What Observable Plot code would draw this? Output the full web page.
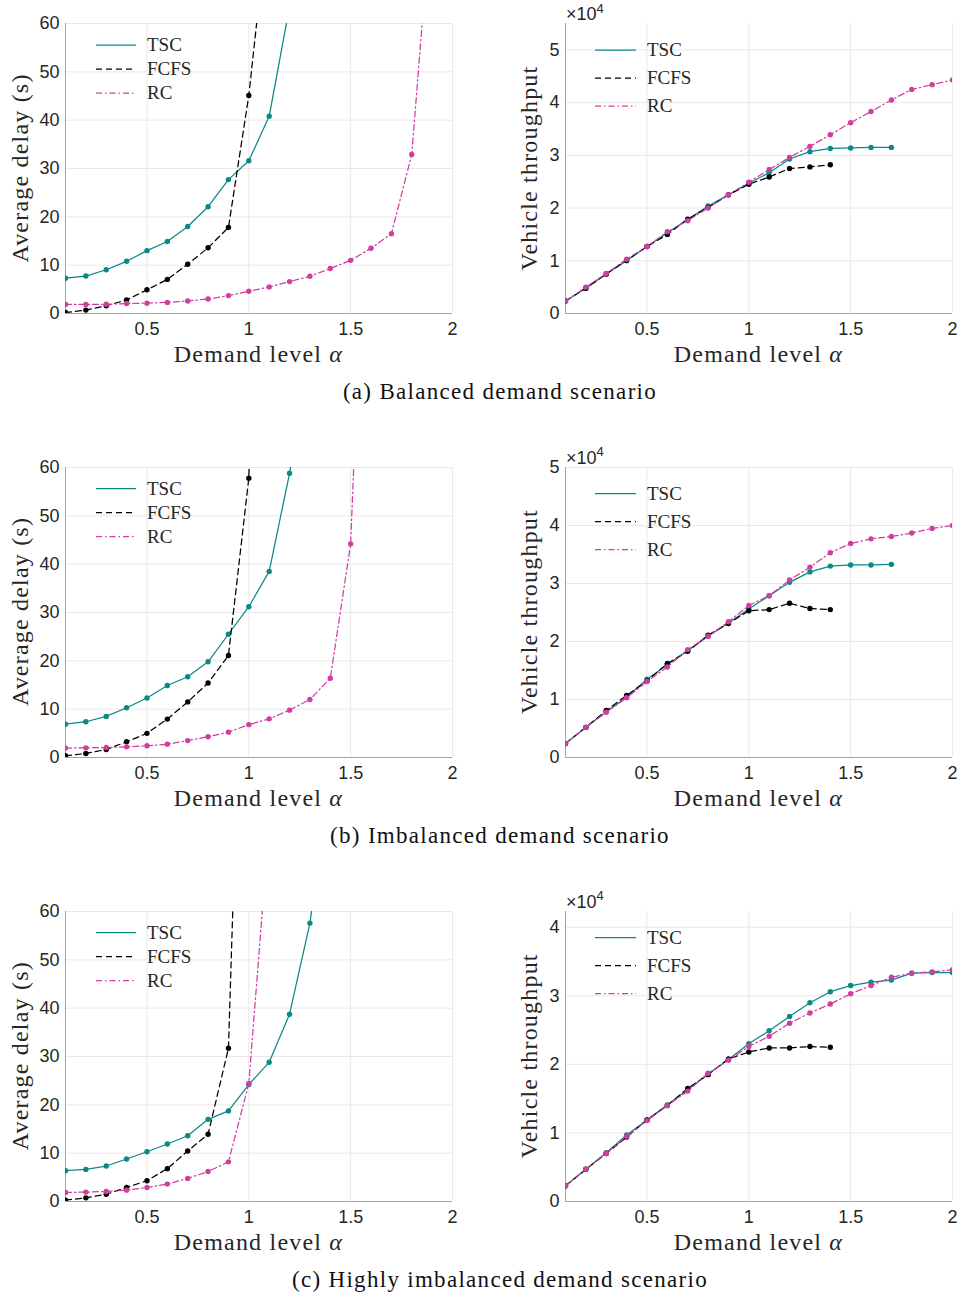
<!DOCTYPE html>
<html><head><meta charset="utf-8">
<script src="https://cdn.jsdelivr.net/npm/d3@7"></script>
<script src="https://cdn.jsdelivr.net/npm/@observablehq/plot@0.6"></script>
<style>
body{margin:0;background:#fff;}
#root{position:relative;width:959px;height:1297px;overflow:hidden;background:#fff;}
#overlay{position:absolute;left:0;top:0;}
</style></head><body><div id="root"></div>
<script>
// ---------- data ----------
const alpha = [0.1,0.2,0.3,0.4,0.5,0.6,0.7,0.8,0.9,1.0,1.1,1.2,1.3,1.4,1.5,1.6,1.7,1.8,1.9,2.0];
const seriesNames = ["TSC","FCFS","RC"];
const xTicks = [0.5,1,1.5,2];
const delayTicks = [0,10,20,30,40,50,60];
const captions = ["(a) Balanced demand scenario","(b) Imbalanced demand scenario","(c) Highly imbalanced demand scenario"];
const xLabelText = "Demand level ";
const delayLabel = "Average delay (s)";
const thrLabel = "Vehicle throughput";

// (a) balanced
const delayBalTSC  = [7.3,7.75,9.05,10.8,13.0,14.9,18.0,22.1,27.7,31.6,40.8,63.5];
const delayBalFCFS = [0.2,0.7,1.6,2.8,4.9,7.05,10.2,13.6,17.8,45.1,84];
const delayBalRC   = [1.87,1.87,1.9,2.07,2.14,2.3,2.6,3.0,3.7,4.6,5.5,6.6,7.7,9.3,11.0,13.5,16.5,32.9,86];
const thrBalTSC  = [2360,4800,7500,10000,12700,15300,17800,20400,22500,24700,26700,29300,30700,31300,31400,31500,31500];
const thrBalFCFS = [2360,4800,7500,10100,12700,15000,17900,20100,22500,24500,25900,27500,27800,28200];
const thrBalRC   = [2360,5000,7600,10300,12700,15500,17600,20000,22500,24900,27300,29600,31700,33900,36200,38300,40500,42500,43400,44300];
// (b) imbalanced
const delayImbTSC  = [6.9,7.4,8.5,10.3,12.3,14.9,16.7,19.8,25.5,31.2,38.5,58.8,85];
const delayImbFCFS = [0.35,0.83,1.66,3.25,5.0,7.95,11.5,15.4,21.1,57.8,200];
const delayImbRC   = [1.94,2.0,2.07,2.2,2.42,2.76,3.5,4.3,5.25,6.8,8.0,9.8,12.0,16.4,44.2,150];
const thrImbTSC  = [2400,5200,7900,10400,13500,16000,18400,20900,23200,25600,27900,30200,32000,33000,33200,33200,33300];
const thrImbFCFS = [2400,5200,8100,10700,13200,16200,18300,21100,23100,25300,25500,26600,25700,25500];
const thrImbRC   = [2400,5200,7800,10300,13100,15600,18600,20900,23400,26200,27900,30600,32800,35300,36900,37700,38100,38700,39500,40000];
// (c) highly imbalanced
const delayHiTSC  = [6.37,6.64,7.34,8.8,10.3,11.9,13.6,17.0,18.75,24.2,28.8,38.75,57.6,88];
const delayHiFCFS = [0.28,0.76,1.5,2.9,4.3,6.8,10.45,13.9,31.7,166];
const delayHiRC   = [1.87,1.94,2.08,2.35,2.9,3.6,4.78,6.2,8.2,24.4,78.3];
const thrHiTSC  = [2300,4700,7100,9700,11900,14100,16300,18600,20700,23000,24900,27000,29000,30600,31500,32000,32300,33300,33400,33400];
const thrHiFCFS = [2300,4700,7000,9400,11900,14000,16500,18500,20800,21800,22400,22400,22600,22500];
const thrHiRC   = [2300,4700,7000,9500,11800,14000,16100,18700,20600,22600,24100,26000,27500,28800,30300,31500,32700,33300,33500,33800];

const thrDomains = [[0,55000],[0,50000],[0,42300]];
const thrTicks = [[0,10000,20000,30000,40000,50000],[0,10000,20000,30000,40000,50000],[0,10000,20000,30000,40000]];

// ---------- styles ----------
const colors = ["#0b8985","#000000","#d23da2"];
const dashes = [null,"6,4","6,3,1.5,3"];
const gridColor = "#e9e9e9";
const axisColor = "#a3a3a3";
const tickColor = "#262626";
const rowTops = [0, 443.5, 887.7];
const sans = "'Liberation Sans', Arial, sans-serif";

const root = document.getElementById("root");

function panel(seriesList, yDomain, yTicks, yFormat, width, marginLeft, marginRight) {
  const marks = [
    Plot.gridX(xTicks, {stroke: gridColor, strokeOpacity: 1}),
    Plot.gridY(yTicks, {stroke: gridColor, strokeOpacity: 1}),
    Plot.axisX({ticks: xTicks, tickSize: 0, tickPadding: 9, tickFormat: d => String(d), label: null, fill: tickColor, fontSize: 18, fontFamily: sans}),
    Plot.axisY({ticks: yTicks, tickSize: 0, tickPadding: 6, tickFormat: yFormat, label: null, fill: tickColor, fontSize: 18, fontFamily: sans}),
    Plot.ruleX([0.1], {stroke: axisColor, strokeWidth: 1}),
    Plot.ruleY([yDomain[0]], {stroke: axisColor, strokeWidth: 1})
  ];
  seriesList.forEach((vals, k) => {
    const data = vals.map((v, i) => ({a: alpha[i], v, s: seriesNames[k]}));
    const lineOpts = {x: "a", y: "v", stroke: colors[k], strokeWidth: 1.25, clip: true};
    if (dashes[k]) lineOpts.strokeDasharray = dashes[k];
    marks.push(Plot.line(data, lineOpts));
    marks.push(Plot.dot(data, {x: "a", y: "v", r: 2.7, fill: colors[k], stroke: "none", clip: true}));
  });
  const svg = Plot.plot({
    width, height: 372,
    marginTop: 23, marginBottom: 59, marginLeft, marginRight,
    x: {domain: [0.1, 2]},
    y: {domain: yDomain},
    style: {fontFamily: sans, fontSize: "18px", background: "transparent", overflow: "visible"},
    marks
  });
  return svg;
}

const delaySets = [
  [delayBalTSC, delayBalFCFS, delayBalRC],
  [delayImbTSC, delayImbFCFS, delayImbRC],
  [delayHiTSC, delayHiFCFS, delayHiRC]
];
const thrSets = [
  [thrBalTSC, thrBalFCFS, thrBalRC],
  [thrImbTSC, thrImbFCFS, thrImbRC],
  [thrHiTSC, thrHiFCFS, thrHiRC]
];

for (let r = 0; r < 3; r++) {
  const left = panel(delaySets[r], [0, 60], delayTicks, d => String(d), 480, 65, 28);
  left.style.position = "absolute"; left.style.left = "0px"; left.style.top = rowTops[r] + "px";
  root.appendChild(left);
  const right = panel(thrSets[r], thrDomains[r], thrTicks[r], d => String(d / 10000), 479, 85, 7);
  right.style.position = "absolute"; right.style.left = "480px"; right.style.top = rowTops[r] + "px";
  root.appendChild(right);
}

// ---------- text overlay (labels, legends, captions) ----------
const NS = "http://www.w3.org/2000/svg";
const ov = document.createElementNS(NS, "svg");
ov.setAttribute("id", "overlay");
ov.setAttribute("width", 959); ov.setAttribute("height", 1297);
root.appendChild(ov);
const serif = "'Liberation Serif', 'Times New Roman', serif";
function txt(x, y, str, opts = {}) {
  const t = document.createElementNS(NS, "text");
  t.setAttribute("x", x); t.setAttribute("y", y);
  t.setAttribute("font-family", opts.family || serif);
  t.setAttribute("font-size", opts.size || 24);
  t.setAttribute("fill", opts.fill || "#262626");
  if (opts.anchor) t.setAttribute("text-anchor", opts.anchor);
  if (opts.ls) t.setAttribute("letter-spacing", opts.ls);
  if (opts.rotate) t.setAttribute("transform", `rotate(-90 ${x} ${y})`);
  t.textContent = str;
  ov.appendChild(t);
  return t;
}
function addItalic(t, str) {
  const s = document.createElementNS(NS, "tspan");
  s.setAttribute("font-style", "italic");
  s.textContent = str;
  t.appendChild(s);
}
function line(x1, y1, x2, y2, color, dash) {
  const l = document.createElementNS(NS, "line");
  l.setAttribute("x1", x1); l.setAttribute("y1", y1); l.setAttribute("x2", x2); l.setAttribute("y2", y2);
  l.setAttribute("stroke", color); l.setAttribute("stroke-width", 1.25);
  if (dash) l.setAttribute("stroke-dasharray", dash);
  ov.appendChild(l);
}

for (let r = 0; r < 3; r++) {
  const y0 = rowTops[r];
  // y labels
  txt(28, y0 + 168, delayLabel, {anchor: "middle", rotate: true, ls: 1.2});
  txt(537, y0 + 168, thrLabel, {anchor: "middle", rotate: true, ls: 1.2});
  // x labels
  const xl1 = txt(258.5, y0 + 362, xLabelText, {anchor: "middle", ls: 1.2}); addItalic(xl1, "α");
  const xl2 = txt(758.5, y0 + 362, xLabelText, {anchor: "middle", ls: 1.2}); addItalic(xl2, "α");
  // exponent label
  const ex = txt(566, y0 + 20, "×10", {family: sans, size: 18});
  const sup = document.createElementNS(NS, "tspan");
  sup.setAttribute("font-size", 13); sup.setAttribute("dy", -7.5); sup.textContent = "4";
  ex.appendChild(sup);
  // legends
  seriesNames.forEach((name, k) => {
    const ly = y0 + 45 + k * 24;
    line(96, ly, 136, ly, colors[k], dashes[k]);
    txt(147, ly + 6, name, {size: 19});
    const ry = y0 + 50 + k * 28;
    line(595, ry, 636, ry, colors[k], dashes[k]);
    txt(647, ry + 6, name, {size: 19});
  });
  // caption
  txt(500, y0 + 399, captions[r], {anchor: "middle", size: 23, ls: 1.3, fill: "#111"});
}
</script></body></html>
